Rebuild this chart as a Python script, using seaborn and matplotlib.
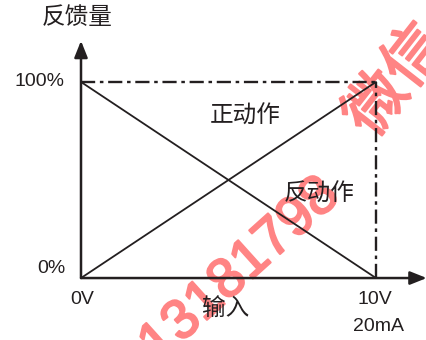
import numpy as np
import pandas as pd
import seaborn as sns
import matplotlib.pyplot as plt
import matplotlib.patheffects as pe

# input range (V) and feedback (%)
x_input = [0, 10]
forward = [0, 100]    # 正动作
reverse = [100, 0]    # 反动作
x_ticks = ["0V", "10V"]
y_ticks = ["0%", "100%"]

sns.set_style("white")
plt.rcParams['font.family'] = ['Liberation Sans', 'Noto Sans CJK SC']

df = pd.DataFrame({"x": x_input * 2,
                   "y": forward + reverse,
                   "kind": ["正动作"] * 2 + ["反动作"] * 2})

fig = plt.figure(figsize=(4.27, 3.40), dpi=100)
ax = fig.add_axes([0, 0, 1, 1])
ax.set_xlim(-2.746, 11.73)
ax.set_ylim(-31.6, 141.8)
ax.axis('off')

sns.lineplot(data=df, x="x", y="y", units="kind", estimator=None,
             color="#231f20", lw=1.3, ax=ax, zorder=3)

# dash-dot limits
dd = (0, (6, 2, 1.5, 2))
ax.plot([x_input[0], x_input[1]], [forward[1], forward[1]], color="#231f20", lw=1.7, ls=dd, zorder=3)
ax.plot([x_input[1], x_input[1]], [forward[0], forward[1]], color="#231f20", lw=1.7, ls=dd, zorder=3)

# axes with arrows
arr = dict(arrowstyle="-|>,head_length=1.0,head_width=0.4", color="#231f20", lw=1.8,
           shrinkA=0, shrinkB=0)
ax.annotate("", xy=(11.72, 0), xytext=(0, 0), arrowprops=arr, annotation_clip=False, zorder=3)
ax.annotate("", xy=(0, 121), xytext=(0, 0), arrowprops=arr, annotation_clip=False, zorder=3)

c = "#231f20"
ax.text(-0.136, 132.7, "反馈量", fontsize=17, ha="center", va="center", color=c)
ax.text(-0.576, 100, y_ticks[1], fontsize=14, ha="right", va="center", color=c)
ax.text(-0.51, 5.1, y_ticks[0], fontsize=14, ha="right", va="center", color=c)
ax.text(0.03, -11.2, x_ticks[0], fontsize=14, ha="center", va="center", color=c)
ax.text(9.97, -11.2, x_ticks[1], fontsize=14, ha="center", va="center", color=c)
ax.text(10.07, -24.5, "20mA", fontsize=14, ha="center", va="center", color=c)
ax.text(4.92, -15.8, "输入", fontsize=17, ha="center", va="center", color=c)
ax.text(5.56, 82.1, "正动作", fontsize=17, ha="center", va="center", color=c)
ax.text(8.07, 42.3, "反动作", fontsize=17, ha="center", va="center", color=c)

# watermark
wm = "#ff8484"
thick = [pe.withStroke(linewidth=1.5, foreground=wm)]
ax.text(5.4, 3.6, "13181798", fontsize=40, rotation=42, ha="center", va="center",
        color=wm, zorder=1, path_effects=thick)
ax.text(10.75, 100, "微信", fontsize=44, rotation=52, ha="center", va="center",
        color=wm, zorder=1, path_effects=thick)

fig.savefig("out.png", dpi=100)
